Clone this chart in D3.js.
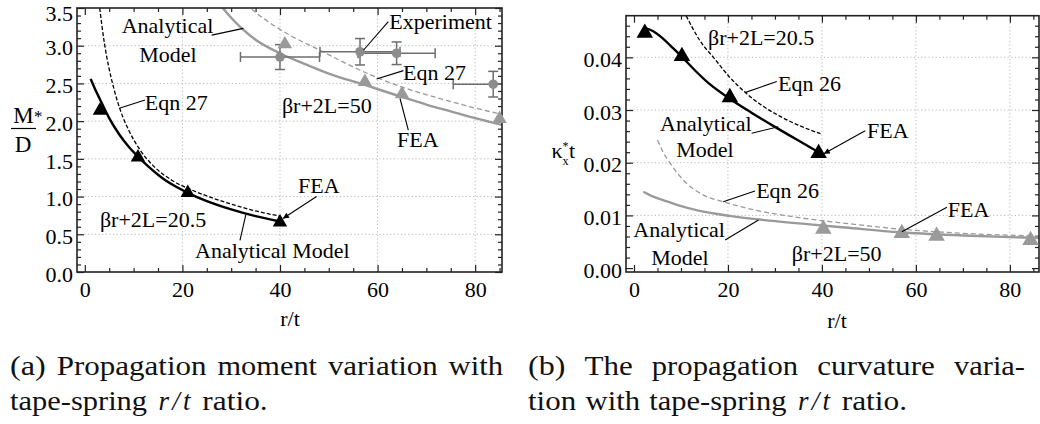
<!DOCTYPE html>
<html>
<head>
<meta charset="utf-8">
<script src="https://cdn.jsdelivr.net/npm/d3@7"></script>
<style>
body { margin: 0; background: #fff; }
svg text { font-family: "Liberation Serif", "Times New Roman", serif; }
</style>
</head>
<body>
<div id="chart"></div>
<script>
// ---- axes ----
var xMajor = [0, 20, 40, 60, 80];
var xMinor = [5, 10, 15, 25, 30, 35, 45, 50, 55, 65, 70, 75, 85];
var xGrid = [20, 40, 60, 80];
var aYMajor = [0, 0.5, 1, 1.5, 2, 2.5, 3, 3.5];
var aYGrid = [0.5, 1, 1.5, 2, 2.5, 3];
var bYMajor = [0, 0.01, 0.02, 0.03, 0.04];
var bYGrid = [0.01, 0.02, 0.03, 0.04];

// ---- (a) propagation moment, M/D* vs r/t ----
var aModel20 = [[1.2,2.56],[2,2.44],[3.1,2.29],[5,2.04],[7,1.83],[9,1.66],[10.9,1.53],[13,1.4],[16,1.24],[19,1.12],[21.1,1.05],[25,0.94],[30,0.83],[35,0.74],[40,0.67]];
var aEqn20 = [[3.05,3.5],[4,3.04],[5,2.69],[6,2.42],[7.2,2.16],[9,1.88],[11.3,1.62],[14,1.41],[18,1.21],[22,1.085],[26,0.985],[30,0.9],[35,0.81],[40,0.74]];
var aFea20 = [[3.1,2.14],[10.9,1.52],[21.1,1.05],[40,0.66]];
var aModel50 = [[27,3.62],[28.3,3.5],[30,3.37],[32,3.24],[35,3.08],[40,2.9],[45,2.76],[50,2.63],[57.4,2.48],[65,2.32],[70,2.22],[75,2.13],[80,2.04],[85.5,1.95]];
var aEqn50 = [[33,3.56],[34.5,3.47],[38,3.3],[42,3.14],[48.2,2.94],[54,2.75],[59.8,2.58],[66,2.43],[72.8,2.3],[79,2.19],[85.5,2.09]];
var aFea50 = [[41,3.02],[57.4,2.52],[65,2.36],[85,2.03]];
var expX = [40, 56.4, 63.9, 83.7];
var expY = [2.85, 2.92, 2.9, 2.49];
var expXErr = [8.1, 8.2, 7.9, 8.2];
var expYErr = [0.165, 0.175, 0.15, 0.17];

// ---- (b) propagation curvature, kx* t vs r/t ----
var bModel20 = [[2.3,0.0456],[4,0.045],[6,0.0437],[8,0.042],[10.3,0.04],[13,0.0375],[16,0.035],[20.3,0.0322],[25,0.0295],[30,0.0268],[35,0.0242],[39.3,0.022]];
var bEqn20 = [[11.1,0.0479],[12.5,0.0455],[14,0.0432],[16.9,0.04],[20.4,0.0362],[23.6,0.0334],[27.5,0.0307],[31.1,0.0288],[35.3,0.027],[39.7,0.0255]];
var bFea20 = [[2.3,0.0446],[10.2,0.0402],[20.4,0.0324],[39.3,0.0218]];
var bModel50 = [[2,0.0145],[4,0.0136],[6.2,0.0129],[9.5,0.0119],[13.3,0.011],[20.4,0.0099],[28.9,0.009],[37.4,0.0083],[45,0.0077],[56.6,0.0068],[70,0.0062],[86.2,0.0057]];
var bEqn50 = [[5,0.0243],[6.2,0.022],[7.7,0.0199],[10.5,0.0167],[14.7,0.0139],[19,0.0126],[23,0.0116],[27.5,0.0107],[32,0.01],[37.4,0.0093],[45,0.0085],[56.6,0.0074],[70,0.0066],[86.2,0.0061]];
var bFea50 = [[40.3,0.0074],[57,0.0066],[64.4,0.0061],[84.4,0.0053]];

var GRAY = "#9a9a9a";

function makePanel(svg, defs, id, box, xDom, yDom, yMajor, yMinor, yGrid, yFmt) {
    var x = d3.scaleLinear().domain(xDom).range([box.left, box.right]);
    var y = d3.scaleLinear().domain(yDom).range([box.bottom, box.top]);

    defs.append("clipPath").attr("id", id)
        .append("rect")
        .attr("x", box.left).attr("y", box.top)
        .attr("width", box.right - box.left).attr("height", box.bottom - box.top);

    var g = svg.append("g");

    // dotted grid
    g.selectAll("line.gx").data(xGrid).enter().append("line")
        .attr("x1", function(d) { return x(d); }).attr("x2", function(d) { return x(d); })
        .attr("y1", box.top).attr("y2", box.bottom)
        .attr("stroke", "#b8b8b8").attr("stroke-dasharray", "1.2,2.4");
    g.selectAll("line.gy").data(yGrid).enter().append("line")
        .attr("y1", function(d) { return y(d); }).attr("y2", function(d) { return y(d); })
        .attr("x1", box.left).attr("x2", box.right)
        .attr("stroke", "#b8b8b8").attr("stroke-dasharray", "1.2,2.4");

    function styleAxis(sel) {
        sel.select(".domain").remove();
        sel.attr("font-family", "Liberation Serif").attr("font-size", 22);
        sel.selectAll(".tick line").attr("stroke", "#222").attr("stroke-width", 1.2);
        sel.selectAll(".tick text").attr("fill", "#000");
    }

    var ax = [
        [d3.axisBottom(x).tickValues(xMajor).tickSize(-7).tickPadding(9).tickFormat(d3.format("d")), 0, box.bottom],
        [d3.axisBottom(x).tickValues(xMinor).tickSize(-4).tickFormat(""), 0, box.bottom],
        [d3.axisTop(x).tickValues(xMajor).tickSize(-7).tickFormat(""), 0, box.top],
        [d3.axisTop(x).tickValues(xMinor).tickSize(-4).tickFormat(""), 0, box.top],
        [d3.axisLeft(y).tickValues(yMajor).tickSize(-7).tickPadding(4).tickFormat(yFmt), box.left, 0],
        [d3.axisLeft(y).tickValues(yMinor).tickSize(-4).tickFormat(""), box.left, 0],
        [d3.axisRight(y).tickValues(yMajor).tickSize(-7).tickFormat(""), box.right, 0],
        [d3.axisRight(y).tickValues(yMinor).tickSize(-4).tickFormat(""), box.right, 0]
    ];
    ax.forEach(function(a, i) {
        var axG = g.append("g")
            .attr("transform", "translate(" + a[1] + "," + a[2] + ")")
            .call(a[0].tickSizeOuter(0))
            .call(styleAxis);
        if (i === 4) {
            // y labels sit a little under their tick, the top one more so
            axG.selectAll(".tick text").attr("dy", function(d) {
                return y(d) - box.top < 4 ? "0.58em" : "0.42em";
            });
        }
    });

    var plot = svg.append("g").attr("clip-path", "url(#" + id + ")");
    var top = svg.append("g");

    top.append("rect")
        .attr("x", box.left).attr("y", box.top)
        .attr("width", box.right - box.left).attr("height", box.bottom - box.top)
        .attr("fill", "none").attr("stroke", "#222").attr("stroke-width", 1.6);

    return { x: x, y: y, plot: plot, top: top };
}

function drawCurve(P, data, color, width, dash) {
    var line = d3.line()
        .x(function(d) { return P.x(d[0]); })
        .y(function(d) { return P.y(d[1]); })
        .curve(d3.curveMonotoneX);
    P.plot.append("path").datum(data)
        .attr("d", line)
        .attr("fill", "none")
        .attr("stroke", color)
        .attr("stroke-width", width)
        .attr("stroke-dasharray", dash || null);
}

function drawTriangles(P, data, color, size) {
    P.top.selectAll(null).data(data).enter().append("path")
        .attr("d", d3.symbol().type(d3.symbolTriangle).size(size))
        .attr("transform", function(d) { return "translate(" + P.x(d[0]) + "," + P.y(d[1]) + ")"; })
        .attr("fill", color);
}

function label(P, txt, x, y, anchor) {
    P.top.append("text")
        .attr("x", P.x(x)).attr("y", P.y(y))
        .attr("text-anchor", anchor || "start")
        .attr("font-size", 22)
        .text(txt);
}

function leader(P, x1, y1, x2, y2, arrow) {
    P.top.append("line")
        .attr("x1", P.x(x1)).attr("y1", P.y(y1))
        .attr("x2", P.x(x2)).attr("y2", P.y(y2))
        .attr("stroke", "#000").attr("stroke-width", 1.1)
        .attr("marker-end", arrow ? "url(#arrow)" : null);
}

function init() {
    var svg = d3.select("#chart").append("svg")
        .attr("width", 1040).attr("height", 424);
    var defs = svg.append("defs");
    defs.append("marker").attr("id", "arrow")
        .attr("viewBox", "0 0 10 10").attr("refX", 10).attr("refY", 5)
        .attr("markerWidth", 9).attr("markerHeight", 6)
        .attr("markerUnits", "userSpaceOnUse").attr("orient", "auto")
        .append("path").attr("d", "M0,0L10,5L0,10z").attr("fill", "#000");

    var aYMinor = d3.range(0, 3.51, 0.1).filter(function(v) { return Math.abs(v * 2 - Math.round(v * 2)) > 0.01; });
    var bYMinor = d3.range(0, 0.0479, 0.002).filter(function(v) { return Math.abs(v * 100 - Math.round(v * 100)) > 0.01; });

    // ===== panel (a) =====
    var A = makePanel(svg, defs, "clipA", { left: 77, right: 502, top: 8, bottom: 272 },
        [-1.6, 85.5], [0, 3.5], aYMajor, aYMinor, aYGrid, d3.format(".1f"));

    drawCurve(A, aEqn50, GRAY, 1.3, "5,3");
    drawCurve(A, aModel50, GRAY, 2.4);
    drawCurve(A, aEqn20, "#000", 1.3, "4,2");
    drawCurve(A, aModel20, "#000", 2.4);

    // experiment with error bars
    var exp = expX.map(function(v, i) { return { x: v, y: expY[i], ex: expXErr[i], ey: expYErr[i] }; });
    var eb = A.plot.selectAll(null).data(exp).enter().append("g")
        .attr("stroke", "#6e6e6e").attr("stroke-width", 1.5);
    eb.append("line")
        .attr("x1", function(d) { return A.x(d.x - d.ex); }).attr("x2", function(d) { return A.x(d.x + d.ex); })
        .attr("y1", function(d) { return A.y(d.y); }).attr("y2", function(d) { return A.y(d.y); });
    eb.append("line")
        .attr("x1", function(d) { return A.x(d.x); }).attr("x2", function(d) { return A.x(d.x); })
        .attr("y1", function(d) { return A.y(d.y - d.ey); }).attr("y2", function(d) { return A.y(d.y + d.ey); });
    [-1, 1].forEach(function(s) {
        eb.append("line")
            .attr("x1", function(d) { return A.x(d.x + s * d.ex); }).attr("x2", function(d) { return A.x(d.x + s * d.ex); })
            .attr("y1", function(d) { return A.y(d.y) - 5; }).attr("y2", function(d) { return A.y(d.y) + 5; });
        eb.append("line")
            .attr("x1", function(d) { return A.x(d.x) - 5; }).attr("x2", function(d) { return A.x(d.x) + 5; })
            .attr("y1", function(d) { return A.y(d.y + s * d.ey); }).attr("y2", function(d) { return A.y(d.y + s * d.ey); });
    });
    A.top.selectAll(null).data(exp).enter().append("circle")
        .attr("cx", function(d) { return A.x(d.x); })
        .attr("cy", function(d) { return A.y(d.y); })
        .attr("r", 4.8).attr("fill", "#8c8c8c");

    drawTriangles(A, aFea50, GRAY, 90);
    drawTriangles(A, aFea20, "#000", 90);

    label(A, "Analytical", 16.95, 3.17, "middle");
    label(A, "Model", 17.05, 2.78, "middle");
    leader(A, 26.0, 3.14, 32.5, 3.23);
    label(A, "Eqn 27", 12.3, 2.15);
    leader(A, 7.07, 2.17, 12.34, 2.28);
    label(A, "Experiment", 62.4, 3.22);
    leader(A, 57.1, 2.94, 62.2, 3.32);
    label(A, "Eqn 27", 65.2, 2.55);
    leader(A, 59.8, 2.56, 65.3, 2.67);
    label(A, "\u03b2r+2L=50", 40.4, 2.11);
    label(A, "FEA", 64, 1.66);
    leader(A, 64.6, 2.3, 66.3, 1.88);
    label(A, "FEA", 43.7, 1.05);
    leader(A, 47.5, 1.0, 40.6, 0.71, true);
    label(A, "\u03b2r+2L=20.5", 3.1, 0.6);
    label(A, "Analytical Model", 22.6, 0.19);
    leader(A, 33.0, 0.76, 31.8, 0.42);

    // axis titles (a)
    svg.append("text").attr("x", 290).attr("y", 326).attr("text-anchor", "middle").attr("font-size", 22).text("r/t");
    svg.append("text").attr("x", 23.5).attr("y", 123).attr("text-anchor", "middle").attr("font-size", 23).text("M");
    svg.append("line").attr("x1", 11).attr("x2", 36).attr("y1", 128.5).attr("y2", 128.5).attr("stroke", "#000").attr("stroke-width", 1.2);
    svg.append("text").attr("x", 23).attr("y", 152).attr("text-anchor", "middle").attr("font-size", 23).text("D");
    svg.append("text").attr("x", 34).attr("y", 122).attr("font-size", 17).text("*");

    // ===== panel (b) =====
    var B = makePanel(svg, defs, "clipB", { left: 626, right: 1039, top: 15.7, bottom: 272 },
        [-1.7, 86.2], [-0.00074, 0.0479], bYMajor, bYMinor, bYGrid, d3.format(".2f"));

    drawCurve(B, bEqn50, GRAY, 1.3, "5,3");
    drawCurve(B, bModel50, GRAY, 2.4);
    drawCurve(B, bEqn20, "#000", 1.3, "4,2");
    drawCurve(B, bModel20, "#000", 2.4);

    drawTriangles(B, bFea50, GRAY, 118);
    drawTriangles(B, bFea20, "#000", 118);

    label(B, "\u03b2r+2L=20.5", 15.75, 0.04234);
    label(B, "Eqn 26", 30.65, 0.03361);
    leader(B, 23.6, 0.0333, 30.4, 0.0354);
    label(B, "Analytical", 15.3, 0.0261, "middle");
    label(B, "Model", 15.1, 0.0211, "middle");
    leader(B, 25.05, 0.02558, 30.7, 0.02684);
    label(B, "FEA", 49.6, 0.02469);
    leader(B, 49.2, 0.02608, 40.4, 0.0217, true);
    label(B, "Eqn 26", 26.0, 0.0133);
    leader(B, 19.0, 0.0126, 25.75, 0.01463);
    label(B, "Analytical", 9.6, 0.0059, "middle");
    label(B, "Model", 9.8, 0.00059, "middle");
    leader(B, 19.4, 0.00534, 26.5, 0.00913);
    label(B, "FEA", 66.8, 0.0097);
    leader(B, 66.6, 0.01154, 57.0, 0.00691);
    label(B, "\u03b2r+2L=50", 33.6, 0.00135);

    // axis titles (b): kappa with stacked * and x
    svg.append("text").attr("x", 837).attr("y", 328).attr("text-anchor", "middle").attr("font-size", 22).text("r/t");
    var kap = svg.append("text").attr("x", 551.5).attr("y", 158).attr("font-size", 22);
    kap.append("tspan").text("\u03ba");
    kap.append("tspan").attr("font-size", 12).attr("dy", -8).text("*");
    kap.append("tspan").attr("font-size", 12).attr("dx", -6).attr("dy", 14.5).text("x");
    kap.append("tspan").attr("dy", -6.5).attr("dx", 0.5).text("t");

    // ===== captions =====
    // word boxes follow the typeset (justified) caption lines
    var cap = svg.append("g").attr("fill", "#111");
    function words(list, y) {
        list.forEach(function(w) {
            var t = cap.append("text").attr("x", w[1]).attr("y", y)
                .attr("font-size", 27)
                .attr("textLength", w[2])
                .attr("lengthAdjust", w[3] ? "spacing" : "spacingAndGlyphs")
                .text(w[0]);
            if (w[3]) t.style("font-style", "italic");
        });
    }
    words([["(a)", 10, 35.8], ["Propagation", 56.7, 149.9], ["moment", 217.5, 99.5], ["variation", 327.9, 109.8], ["with", 448.6, 54.5]], 375);
    words([["tape-spring", 10, 137.1], ["r/t", 158.5, 32, true], ["ratio.", 202.3, 65.4]], 410);
    words([["(b)", 528, 37.4], ["The", 584.5, 48.2], ["propagation", 651.8, 146.4], ["curvature", 817.3, 117.6], ["varia-", 954.1, 70.9]], 375);
    words([["tion", 528, 48.2], ["with", 585.5, 54.5], ["tape-spring", 649.3, 137.1], ["r/t", 797.9, 32, true], ["ratio.", 841.7, 65.4]], 410);
}

window.onload = init;
</script>
</body>
</html>
